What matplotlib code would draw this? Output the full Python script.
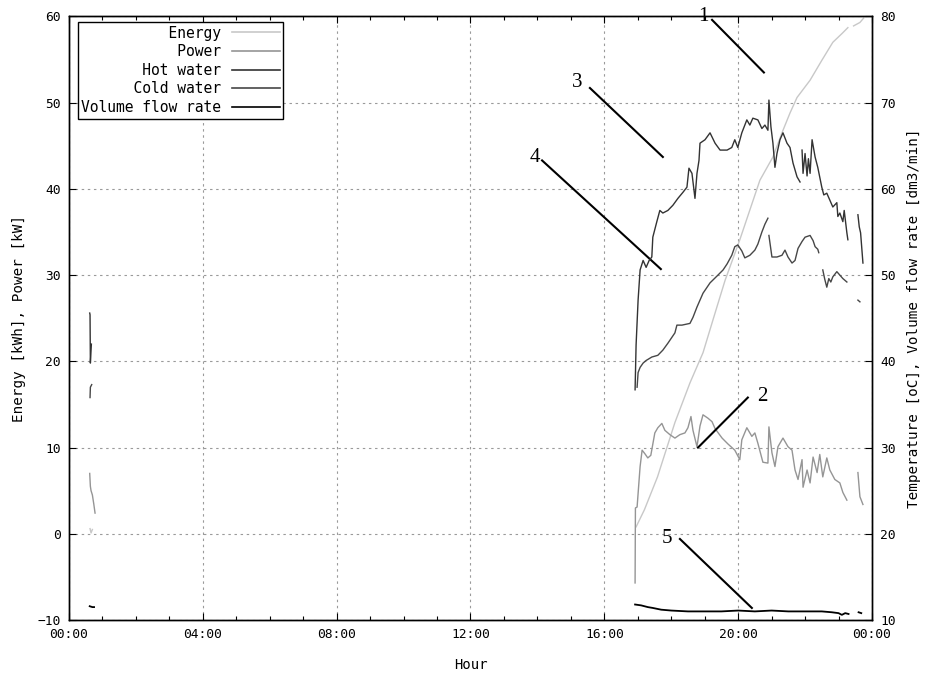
import numpy as np
import matplotlib
matplotlib.use("Agg")
import matplotlib.pyplot as plt
from matplotlib.ticker import MultipleLocator, FuncFormatter
from matplotlib.lines import Line2D

nan = np.nan

# ---- data (time in hours of the day) ----
energy_t = [0.63, 0.66, 0.70, nan,
            16.95, 17.20, 17.59, 18.11, 18.56, 18.95, 19.31, 19.61, 20.05, 20.65,
            21.04, 21.31, 21.55, 21.76, 22.15, 22.50, 22.83, 23.10, 23.28, nan,
            23.45, 23.64, 23.75]
energy_v = [0.6, 0.1, 0.5, nan,
            0.8, 2.8, 6.6, 12.9, 17.5, 21.0, 25.6, 29.4, 34.1, 41.0,
            43.7, 46.5, 48.8, 50.6, 52.6, 54.9, 57.0, 58.0, 58.7, nan,
            58.9, 59.3, 59.8]

power_t = [0.62, 0.64, 0.66, 0.70, 0.74, 0.78, nan,
           16.92, 16.93, 16.98, 17.07, 17.13, 17.21, 17.30, 17.39, 17.51, 17.60,
           17.72, 17.81, 17.96, 18.11, 18.26, 18.41, 18.50, 18.59, 18.65, 18.77,
           18.86, 18.95, 19.10, 19.22, 19.31, 19.52, 19.70, 19.90, 20.05, 20.11,
           20.26, 20.41, 20.50, 20.59, 20.74, 20.89, 20.92, 21.01, 21.10, 21.19,
           21.34, 21.49, 21.61, 21.70, 21.79, 21.91, 21.94, 22.06, 22.15, 22.24,
           22.36, 22.44, 22.53, 22.65, 22.74, 22.89, 23.04, 23.13, 23.25, nan,
           23.58, 23.64, 23.73]
power_v = [7.0, 5.5, 5.0, 4.5, 3.5, 2.4, nan,
           -5.7, 3.0, 3.1, 7.8, 9.7, 9.3, 8.8, 9.1, 11.7, 12.3,
           12.8, 12.0, 11.5, 11.1, 11.5, 11.7, 12.3, 13.6, 12.0, 10.1,
           12.5, 13.8, 13.4, 13.0, 12.2, 11.1, 10.4, 9.7, 8.6, 10.9,
           12.3, 11.3, 11.7, 10.5, 8.3, 8.2, 12.4, 9.4, 7.8, 10.1,
           11.1, 10.1, 9.7, 7.4, 6.3, 8.6, 5.4, 7.4, 5.9, 8.9,
           7.1, 9.2, 6.6, 8.8, 7.4, 6.3, 5.9, 4.8, 3.9, nan,
           7.1, 4.3, 3.4]

hot_t = [0.62, 0.63, 0.64, 0.67, nan,
         16.92, 16.95, 17.01, 17.07, 17.16, 17.25, 17.34, 17.42, 17.45, 17.57,
         17.66, 17.75, 17.90, 18.05, 18.20, 18.35, 18.47, 18.53, 18.62, 18.71,
         18.77, 18.83, 18.86, 19.01, 19.16, 19.31, 19.46, 19.67, 19.81, 19.90,
         19.99, 20.11, 20.26, 20.35, 20.44, 20.59, 20.71, 20.80, 20.89, 20.92,
         20.98, 21.04, 21.10, 21.16, 21.25, 21.34, 21.46, 21.55, 21.64, 21.76,
         21.85, nan,
         21.91, 21.94, 22.00, 22.06, 22.10, 22.15, 22.21, 22.30, 22.38, 22.50,
         22.56, 22.65, 22.74, 22.83, 22.95, 22.98, 23.04, 23.13, 23.17, 23.25,
         23.28, nan,
         23.58, 23.62, 23.66, 23.73]
hot_v = [45.6, 45.4, 39.8, 42.0, nan,
         36.7, 41.9, 47.1, 50.6, 51.7, 50.9, 51.7, 52.1, 54.4, 56.2,
         57.5, 57.2, 57.5, 58.1, 58.9, 59.6, 60.2, 62.4, 61.8, 58.9,
         61.8, 63.3, 65.3, 65.7, 66.5, 65.3, 64.5, 64.5, 64.8, 65.7,
         64.8, 66.5, 68.0, 67.4, 68.2, 68.0, 67.0, 67.4, 66.8, 70.3,
         67.2, 65.3, 62.5, 64.1, 65.7, 66.5, 65.3, 64.8, 63.0, 61.4,
         60.8, nan,
         64.5, 61.8, 64.1, 61.5, 63.5, 61.8, 65.7, 63.7, 62.5, 60.2,
         59.3, 59.5, 58.7, 57.9, 58.4, 56.8, 57.2, 56.2, 57.5, 54.9,
         54.1, nan,
         57.0, 55.6, 54.9, 51.4]

cold_t = [0.63, 0.64, 0.68, nan,
          16.98, 17.01, 17.07, 17.16, 17.25, 17.42, 17.60, 17.75, 17.90, 18.11,
          18.17, 18.32, 18.56, 18.65, 18.77, 18.95, 19.16, 19.37, 19.55, 19.67,
          19.81, 19.90, 19.99, 20.11, 20.20, 20.35, 20.50, 20.59, 20.71, 20.80,
          20.89, nan,
          20.92, 21.01, 21.16, 21.31, 21.40, 21.49, 21.61, 21.70, 21.79, 21.91,
          22.00, 22.15, 22.24, 22.30, 22.38, 22.41, nan,
          22.53, 22.59, 22.65, 22.71, 22.77, 22.83, 22.95, 23.04, 23.13, 23.25, nan,
          23.58, 23.64]
cold_v = [35.8, 37.0, 37.3, nan,
          37.0, 38.7, 39.3, 39.8, 40.1, 40.5, 40.7, 41.3, 42.1, 43.3,
          44.2, 44.2, 44.4, 45.1, 46.3, 47.9, 49.1, 49.9, 50.6, 51.3,
          52.3, 53.3, 53.5, 52.8, 52.0, 52.3, 52.9, 53.6, 55.0, 55.9,
          56.6, nan,
          54.6, 52.1, 52.1, 52.3, 52.9, 52.1, 51.4, 51.7, 53.1, 53.9,
          54.4, 54.6, 54.0, 53.3, 53.0, 52.6, nan,
          50.6, 49.5, 48.6, 49.6, 49.2, 49.8, 50.4, 50.0, 49.6, 49.2, nan,
          47.1, 46.9]

flow_t = [0.62, 0.70, 0.75, nan,
          16.92, 17.10, 17.30, 17.45, 17.70, 18.00, 18.50, 19.00, 19.50, 20.00,
          20.50, 21.00, 21.50, 22.00, 22.50, 22.80, 23.00, 23.10, 23.20, 23.30, nan,
          23.60, 23.68]
flow_v = [11.6, 11.5, 11.5, nan,
          11.8, 11.7, 11.5, 11.4, 11.2, 11.1, 11.0, 11.0, 11.0, 11.1,
          11.0, 11.1, 11.0, 11.0, 11.0, 10.9, 10.8, 10.6, 10.8, 10.7, nan,
          10.9, 10.8]

series_labels = ["Energy", "Power", "Hot water", "Cold water", "Volume flow rate"]
series_colors = ["#c8c8c8", "#959595", "#333333", "#474747", "#000000"]

x_ticks = [0, 4, 8, 12, 16, 20, 24]
left_ticks = [-10, 0, 10, 20, 30, 40, 50, 60]
right_ticks = [10, 20, 30, 40, 50, 60, 70, 80]

# annotations: label, text position, line start, line end (left-axis units)
ann_labels = ["1", "2", "3", "4", "5"]
ann_text = [(18.95, 60.0), (20.72, 15.9), (15.18, 52.3), (13.93, 43.6), (17.87, -0.6)]
ann_start = [(19.22, 59.6), (20.29, 15.8), (15.57, 51.7), (14.14, 43.3), (18.26, -0.6)]
ann_end = [(20.77, 53.5), (18.80, 10.0), (17.75, 43.7), (17.69, 30.7), (20.41, -8.6)]

# ---- figure ----
mono = "DejaVu Sans Mono"
fig = plt.figure(figsize=(9.37, 6.76), dpi=100)
ax = fig.add_axes([0.0736, 0.0828, 0.857, 0.8929])
ax2 = ax.twinx()

lw = 1.0
ax.plot(energy_t, energy_v, color=series_colors[0], lw=lw)
ax.plot(power_t, power_v, color=series_colors[1], lw=lw)
ax2.plot(hot_t, hot_v, color=series_colors[2], lw=lw)
ax2.plot(cold_t, cold_v, color=series_colors[3], lw=lw)
ax2.plot(flow_t, flow_v, color=series_colors[4], lw=1.3)

ax.set_xlim(0, 24)
ax.set_ylim(-10, 60)
ax2.set_ylim(10, 80)
ax.set_xticks(x_ticks)
ax.xaxis.set_minor_locator(MultipleLocator(1))
ax.xaxis.set_major_formatter(FuncFormatter(lambda v, p: f"{int(round(v)) % 24:02d}:00"))
ax.set_yticks(left_ticks)
ax2.set_yticks(right_ticks)

ax.grid(True, which="major", color="#9a9a9a", linestyle=(0, (2.2, 3.3)), linewidth=0.8)

for a in (ax, ax2):
    for s in a.spines.values():
        s.set_linewidth(1.0)
        s.set_color("black")
ax.tick_params(axis="both", which="major", direction="in", length=5, width=0.8,
               top=True, labelsize=9.3, pad=6)
ax.tick_params(axis="x", which="minor", direction="in", length=3, width=0.8, top=True)
ax.tick_params(axis="y", right=False)
ax2.tick_params(axis="y", which="major", direction="in", length=5, width=0.8,
                labelsize=9.3, pad=6)
for lab in ax.get_xticklabels() + ax.get_yticklabels() + ax2.get_yticklabels():
    lab.set_fontfamily(mono)

ax.set_xlabel("Hour", fontfamily=mono, fontsize=10, labelpad=12)
ax.set_ylabel("Energy [kWh], Power [kW]", fontfamily=mono, fontsize=10.3, labelpad=8)
ax2.set_ylabel("Temperature [oC], Volume flow rate [dm3/min]", fontfamily=mono,
               fontsize=10.3, labelpad=8)

# annotations
for lab, tp, s, e in zip(ann_labels, ann_text, ann_start, ann_end):
    ax.plot([s[0], e[0]], [s[1], e[1]], color="black", lw=1.5, clip_on=False, zorder=5)
    ax.text(tp[0], tp[1], lab, fontfamily="Liberation Serif", fontsize=15,
            ha="center", va="center", zorder=6, clip_on=False)

# legend: text right-aligned, sample line after the text
width = max(len(s) for s in series_labels)
handles = [Line2D([], [], color=c, lw=1.2) for c in series_colors]
padded = [s.rjust(width) for s in series_labels]
leg = ax2.legend(handles, padded, loc="upper left", bbox_to_anchor=(0.011, 0.991),
                 borderaxespad=0, markerfirst=False, fancybox=False, framealpha=1,
                 edgecolor="black", prop={"family": mono, "size": 10.5},
                 handlelength=3.3, handletextpad=0.7, labelspacing=0.25,
                 borderpad=0.25)
leg.get_frame().set_linewidth(1.0)

fig.savefig("out.png", dpi=100)
